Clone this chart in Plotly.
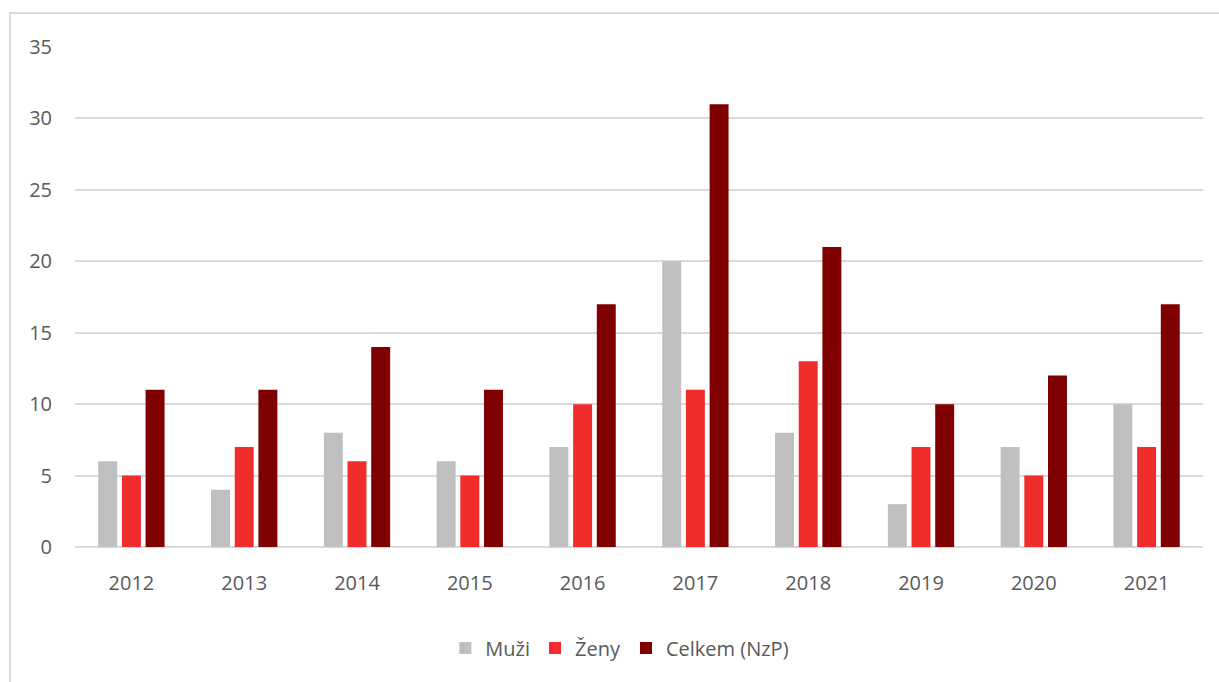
import plotly.graph_objects as go

years = ["2012", "2013", "2014", "2015", "2016", "2017", "2018", "2019", "2020", "2021"]
muzi = [6, 4, 8, 6, 7, 20, 8, 3, 7, 10]
zeny = [5, 7, 6, 5, 10, 11, 13, 7, 5, 7]
celkem = [11, 11, 14, 11, 17, 31, 21, 10, 12, 17]

series_names = ["Muži", "Ženy", "Celkem (NzP)"]
series_colors = ["#bfbfbf", "#f02c2c", "#7f0000"]

font_family = "Open Sans, Liberation Sans, sans-serif"
text_color = "#595959"
grid_color = "#d9d9d9"

fig = go.Figure()
for name, values, color in zip(series_names, [muzi, zeny, celkem], series_colors):
    fig.add_trace(go.Bar(x=years, y=values, name=name, marker=dict(color=color, line=dict(width=0))))

W, H = 1219, 682
ml, mr, mt, mb = 75, 16, 47, 135
pw = W - ml - mr
ph = H - mt - mb

# light frame around the whole chart area
fig.add_shape(
    type="rect", xref="paper", yref="paper",
    x0=(10 - ml) / pw, x1=(W + 20 - ml) / pw,
    y0=(H - mb - (H + 20)) / ph, y1=(H - mb - 13) / ph,
    line=dict(color=grid_color, width=2), fillcolor="rgba(0,0,0,0)", layer="below",
)

fig.update_layout(
    width=W, height=H,
    margin=dict(l=ml, r=mr, t=mt, b=mb),
    paper_bgcolor="white", plot_bgcolor="white",
    barmode="group", bargap=0.37, bargroupgap=0.2,
    font=dict(family=font_family, size=20, color=text_color),
    showlegend=True,
    legend=dict(orientation="h", x=0.483, xanchor="center", y=(H - mb - 648) / ph, yanchor="middle",
                font=dict(size=20, color=text_color), itemwidth=30, traceorder="normal"),
    xaxis=dict(showgrid=False, showline=False, ticks="", ticklabelstandoff=22,
               tickfont=dict(size=20, color=text_color)),
    yaxis=dict(range=[0, 35], dtick=5, tick0=0, showgrid=True, gridcolor=grid_color, gridwidth=1.5,
               zeroline=True, zerolinecolor=grid_color, zerolinewidth=1.5, showline=False,
               ticks="", ticklabelstandoff=22, tickfont=dict(size=20, color=text_color)),
)

fig.write_html("out.html")
